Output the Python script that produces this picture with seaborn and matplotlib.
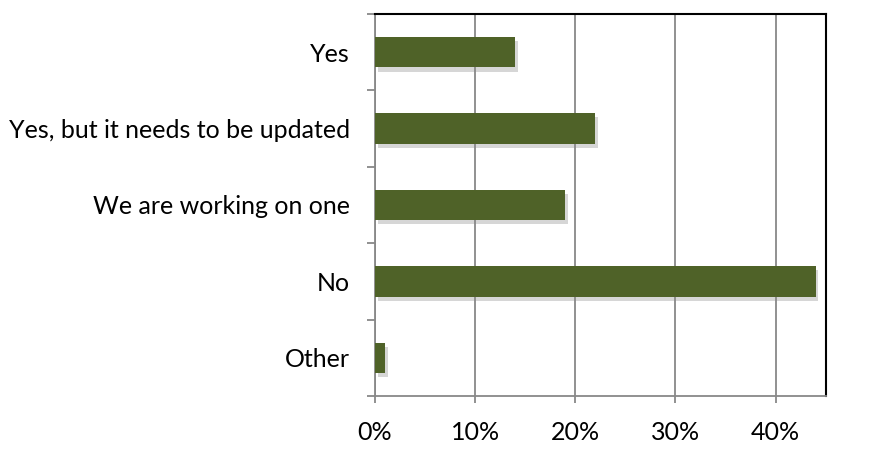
import matplotlib.pyplot as plt
import matplotlib.patheffects as pe
import numpy as np
import pandas as pd
import seaborn as sns

# Survey answers and shares (percent)
answers = ['Yes', 'Yes, but it needs to be updated', 'We are working on one', 'No', 'Other']
shares = [14, 22, 19, 44, 1]
x_ticks = [0, 10, 20, 30, 40]

df = pd.DataFrame({'answer': answers, 'share': shares})

sns.set_style("white")
plt.rcParams['font.family'] = ['Lato', 'DejaVu Sans']

fig = plt.figure(figsize=(8.7, 4.49), dpi=100)
ax = fig.add_axes([0.431, 0.118, 0.518, 0.851])

sns.barplot(data=df, y='answer', x='share', color='#4F6228', saturation=1,
            width=0.4, orient='h', ax=ax, zorder=3, linewidth=0)

# soft shadow under the bars
for bar in ax.patches:
    bar.set_path_effects([pe.SimplePatchShadow(offset=(2, -3), shadow_rgbFace='#8a8a8a', alpha=0.35),
                          pe.Normal()])

ax.set_xlim(0, 45)
ax.set_ylim(len(answers) - 0.5, -0.5)
ax.set_xticks(x_ticks)
ax.set_xticklabels([f'{t}%' for t in x_ticks])
ax.set_yticks(np.arange(len(answers)))
ax.set_yticks(np.arange(len(answers) + 1) - 0.5, minor=True)
ax.set_xlabel('')
ax.set_ylabel('')

ax.grid(axis='x', color='#888888', linewidth=1.3, zorder=0)
ax.set_axisbelow(True)

ax.tick_params(axis='y', which='major', length=0, pad=18, labelsize=18, colors='black')
ax.tick_params(axis='y', which='minor', left=True, length=6, width=1.3, color='#888888')
ax.tick_params(axis='x', which='major', bottom=True, length=5, width=1.3, color='#888888',
               labelsize=18, labelcolor='black', pad=13)

for side in ['left', 'bottom']:
    ax.spines[side].set_color('#888888')
    ax.spines[side].set_linewidth(1.3)
for side in ['top', 'right']:
    ax.spines[side].set_color('black')
    ax.spines[side].set_linewidth(1.5)

plt.savefig('out.png', dpi=100)
plt.close()
